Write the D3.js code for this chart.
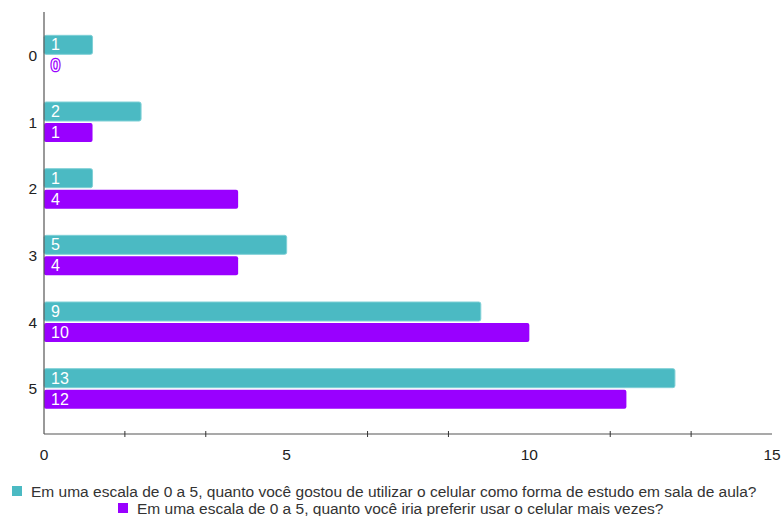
<!DOCTYPE html>
<html>
<head>
<meta charset="utf-8">
<script src="https://cdn.jsdelivr.net/npm/d3@7"></script>
<style>
  body { margin: 0; background: #fff; }
  text { font-family: "Liberation Sans", Arial, sans-serif; }
</style>
</head>
<body>
<div id="chart"></div>
<script>
// respostas por nota (0 a 5)
const categories = ['0', '1', '2', '3', '4', '5'];
const seriesNames = [
  'Em uma escala de 0 a 5, quanto você gostou de utilizar o celular como forma de estudo em sala de aula?',
  'Em uma escala de 0 a 5, quanto você iria preferir usar o celular mais vezes?'
];
const gostou = [1, 2, 1, 5, 9, 13];
const preferir = [0, 1, 4, 4, 10, 12];
const colors = ['#4bbac3', '#9900ff'];
const xTickLabels = [0, 5, 10, 15];

const width = 784, height = 516;
const margin = { left: 44, right: 12, top: 12, bottom: 82 };

const svg = d3.select('#chart')
  .append('svg')
  .attr('width', width)
  .attr('height', height);

const x = d3.scaleLinear().domain([0, 15]).range([margin.left, width - margin.right]);
const y = d3.scaleBand().domain(categories).range([22, 422]);

const plotBottom = height - margin.bottom;

// bars
const series = [gostou, preferir];
const barH = 19, gap = 2;
const barY = (cat, si) => y(cat) + y.bandwidth() / 2 - barH - gap / 2 + si * (barH + gap);

series.forEach((vals, si) => {
  const rows = vals.map((v, i) => ({ cat: categories[i], v }));
  const g = svg.append('g');
  g.selectAll('rect')
    .data(rows.filter(d => d.v > 0))
    .join('rect')
    .attr('x', x(0))
    .attr('y', d => barY(d.cat, si))
    .attr('width', d => x(d.v) - x(0))
    .attr('height', barH)
    .attr('rx', 2)
    .attr('fill', colors[si])
    .attr('stroke', si === 0 ? '#7fd0d6' : 'none')
    .attr('stroke-width', 1);

  g.selectAll('text')
    .data(rows)
    .join('text')
    .attr('x', x(0) + 7)
    .attr('y', d => barY(d.cat, si) + barH / 2)
    .attr('dominant-baseline', 'central')
    .attr('font-size', 16)
    .attr('fill', '#fff')
    .attr('stroke', d => d.v > 0 ? 'none' : colors[si])
    .attr('stroke-width', d => d.v > 0 ? 0 : 2.5)
    .attr('paint-order', 'stroke')
    .text(d => d.v);
});

// y axis
svg.append('line')
  .attr('x1', x(0)).attr('x2', x(0))
  .attr('y1', margin.top).attr('y2', plotBottom)
  .attr('stroke', '#555').attr('stroke-width', 1.2);

svg.append('g')
  .selectAll('text')
  .data(categories)
  .join('text')
  .attr('x', 37)
  .attr('y', d => y(d) + y.bandwidth() / 2)
  .attr('text-anchor', 'end')
  .attr('dominant-baseline', 'central')
  .attr('font-size', 15.5)
  .attr('fill', '#222')
  .text(d => d);

// x axis
svg.append('line')
  .attr('x1', x(0)).attr('x2', x(15))
  .attr('y1', plotBottom).attr('y2', plotBottom)
  .attr('stroke', '#555').attr('stroke-width', 1.2);

const minor = d3.range(1, 9).map(i => i * 5 / 3).filter((v, i) => (i + 1) % 3 !== 0);
svg.append('g')
  .selectAll('line')
  .data(minor)
  .join('line')
  .attr('x1', d => x(d)).attr('x2', d => x(d))
  .attr('y1', plotBottom - 3).attr('y2', plotBottom + 3)
  .attr('stroke', '#333');

svg.append('g')
  .selectAll('text')
  .data(xTickLabels)
  .join('text')
  .attr('x', d => x(d))
  .attr('y', 460)
  .attr('text-anchor', 'middle')
  .attr('font-size', 15.5)
  .attr('fill', '#222')
  .text(d => d);

// legend
const legendRows = [
  { sx: 12, sy: 486 },
  { sx: 118, sy: 503 }
];
seriesNames.forEach((name, i) => {
  const r = legendRows[i];
  svg.append('rect')
    .attr('x', r.sx).attr('y', r.sy)
    .attr('width', 10).attr('height', 10)
    .attr('fill', colors[i]);
  svg.append('text')
    .attr('x', r.sx + 19)
    .attr('y', r.sy + 5)
    .attr('dominant-baseline', 'central')
    .attr('font-size', 15.5)
    .attr('fill', '#333')
    .text(name);
});
</script>
</body>
</html>
